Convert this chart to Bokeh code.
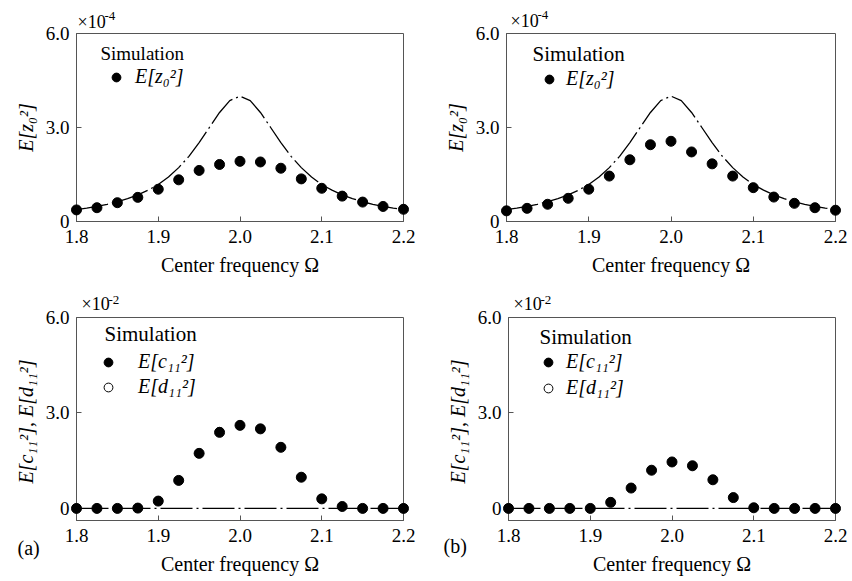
from bokeh.plotting import figure
from bokeh.layouts import column, row
from bokeh.models import Range1d, FixedTicker, PrintfTickFormatter, Label, Legend, LegendItem
from bokeh.core.properties import value
from bokeh.embed import file_html
from bokeh.resources import INLINE

# ---------------- data ----------------
# simulation frequencies
omega_sim = [1.8, 1.825, 1.85, 1.875, 1.9, 1.925, 1.95, 1.975, 2.0,
             2.025, 2.05, 2.075, 2.1, 2.125, 2.15, 2.175, 2.2]
# analytical curve frequencies
omega_theory = [1.8, 1.8125, 1.825, 1.8375, 1.85, 1.8625, 1.875, 1.8875, 1.9,
                1.9125, 1.925, 1.9375, 1.95, 1.9625, 1.975, 1.9875, 2.0,
                2.0125, 2.025, 2.0375, 2.05, 2.0625, 2.075, 2.0875, 2.1,
                2.1125, 2.125, 2.1375, 2.15, 2.1625, 2.175, 2.1875, 2.2]
# analytical E[z0^2] (x1e-4)
z0_theory = [0.38, 0.43, 0.485, 0.55, 0.63, 0.73, 0.85, 1.00, 1.18,
             1.42, 1.72, 2.08, 2.52, 3.00, 3.48, 3.86, 4.00,
             3.86, 3.48, 3.00, 2.52, 2.08, 1.72, 1.42, 1.18,
             1.00, 0.85, 0.73, 0.63, 0.55, 0.485, 0.43, 0.38]
# analytical E[c11^2], E[d11^2] (x1e-2)
cd11_theory = [0.0] * 33

# panel (a) simulation
z0_sim_a = [0.37, 0.44, 0.60, 0.77, 1.03, 1.33, 1.63, 1.82, 1.92,
            1.90, 1.70, 1.36, 1.06, 0.81, 0.62, 0.48, 0.39]
c11_sim_a = [0.0, 0.0, 0.0, 0.01, 0.23, 0.88, 1.73, 2.39, 2.61,
             2.50, 1.92, 0.98, 0.30, 0.06, 0.0, 0.0, 0.0]
d11_sim_a = [0.0, 0.0, 0.0, 0.01, 0.23, 0.88, 1.73, 2.42, 2.61,
             2.50, 1.92, 0.98, 0.30, 0.06, 0.0, 0.0, 0.0]
# panel (b) simulation
z0_sim_b = [0.34, 0.42, 0.55, 0.74, 1.03, 1.45, 1.97, 2.45, 2.56,
            2.22, 1.84, 1.45, 1.08, 0.78, 0.58, 0.44, 0.36]
c11_sim_b = [0.0, 0.0, 0.0, 0.0, 0.0, 0.19, 0.64, 1.20, 1.46,
             1.34, 0.90, 0.34, 0.02, 0.0, 0.0, 0.0, 0.0]
d11_sim_b = [0.0, 0.0, 0.0, 0.0, 0.0, 0.19, 0.64, 1.20, 1.46,
             1.34, 0.90, 0.34, 0.02, 0.0, 0.0, 0.0, 0.0]

x_ticks = [1.8, 1.9, 2.0, 2.1, 2.2]
y_ticks = [0, 3, 6]
y_tick_labels = {0: "0", 3: "3.0", 6: "6.0"}

FONT = "Liberation Serif"
FRAME = "#555555"
DASH = "32 4 2 4"


def make_panel(w, h, bl, br, bt, bb, ymin, ylabel):
    p = figure(width=w, height=h, x_range=Range1d(1.8, 2.2), y_range=Range1d(ymin, 6.0),
               output_backend="svg", toolbar_location=None, tools="",
               min_border_left=bl, min_border_right=br, min_border_top=bt, min_border_bottom=bb)
    p.xgrid.visible = False
    p.ygrid.visible = False
    p.outline_line_color = FRAME
    p.outline_line_width = 1
    p.background_fill_color = "white"
    p.border_fill_color = "white"
    for ax in (p.xaxis[0], p.yaxis[0]):
        ax.axis_line_color = FRAME
        ax.major_tick_line_color = FRAME
        ax.major_tick_in = 5
        ax.major_tick_out = 0
        ax.minor_tick_line_color = None
        ax.major_label_text_font = FONT
        ax.major_label_text_font_size = "19px"
        ax.major_label_text_color = "black"
        ax.axis_label_text_font = FONT
        ax.axis_label_text_font_size = "20px"
        ax.axis_label_text_color = "black"
    p.xaxis.ticker = FixedTicker(ticks=x_ticks)
    p.xaxis.formatter = PrintfTickFormatter(format="%.1f")
    p.xaxis.major_label_standoff = 8
    p.xaxis.axis_label = "Center frequency Ω"
    p.xaxis.axis_label_text_font_style = "normal"
    p.xaxis.axis_label_standoff = 8
    p.yaxis.ticker = FixedTicker(ticks=y_ticks)
    p.yaxis.major_label_overrides = y_tick_labels
    p.yaxis.major_label_standoff = 7
    p.yaxis.axis_label = ylabel
    p.yaxis.axis_label_text_font_style = "italic"
    p.yaxis.axis_label_standoff = 6
    return p


def add_label(p, text, x, y, xo, yo, size, style="normal"):
    p.add_layout(Label(x=x, y=y, x_offset=xo, y_offset=yo, text=text,
                       text_font=FONT, text_font_size=size, text_font_style=style,
                       text_align="left", text_baseline="middle", text_color="black"))


def add_outer_text(p, text, x, y, xo, yo, size):
    # glyph text drawn at overlay level so it is not clipped to the frame
    # (offsets in screen pixels, positive y = down)
    p.text(x=[x], y=[y], text=[text], x_offset=xo, y_offset=yo,
           text_font=value(FONT), text_font_size=value(size), text_align="left",
           text_baseline="middle", text_color="black", level="overlay")


def add_multiplier(p, exponent, xo, yo, sup_shift=6):
    add_outer_text(p, "×10", 1.8, 6.0, xo, yo, "18px")
    add_outer_text(p, exponent, 1.8, 6.0, xo + 27, yo - sup_shift, "13px")


def make_legend(items, loc, standoff, spacing):
    return Legend(items=items, location=loc, glyph_width=22, glyph_height=22,
                  label_height=22, label_standoff=standoff, padding=0, margin=0,
                  spacing=spacing, border_line_alpha=0, background_fill_alpha=0,
                  label_text_font=FONT, label_text_font_style="italic",
                  label_text_font_size="20px", label_text_color="black")


def dots(p, x, y, filled=True, size=10):
    return p.scatter(x, y, size=size, marker="circle",
                     fill_color="black" if filled else "white", line_color="black",
                     level="overlay")


# ---- top left (a) ----
p1 = make_panel(426, 290, 76, 23, 32, 69, 0.0, "E[z₀²]")
p1.line(omega_theory, z0_theory, line_color="black", line_width=1.3, line_dash=DASH)
r1 = dots(p1, omega_sim, z0_sim_a)
p1.add_layout(make_legend([LegendItem(label="E[z₀²]", renderers=[r1])], (29, 133), 8, 2))
add_label(p1, "Simulation", 1.8, 6.0, 24, -20, "19px")
add_multiplier(p1, "-4", 1, -12)

# ---- top right (b) ----
p2 = make_panel(426, 290, 80, 17, 33, 69, 0.0, "E[z₀²]")
p2.line(omega_theory, z0_theory, line_color="black", line_width=1.3, line_dash=DASH)
r2 = dots(p2, omega_sim, z0_sim_b)
p2.add_layout(make_legend([LegendItem(label="E[z₀²]", renderers=[r2])], (32, 131), 6, 2))
add_label(p2, "Simulation", 1.8, 6.0, 26, -20, "21px")
add_multiplier(p2, "-4", 4, -13)

# ---- bottom left (a) ----
YMIN_B = -0.38
p3 = make_panel(426, 291, 76, 23, 27, 61, YMIN_B, "E[c₁₁²],  E[d₁₁²]")
p3.line(omega_theory, cd11_theory, line_color="black", line_width=1.3, line_dash=DASH)
r3d = dots(p3, omega_sim, d11_sim_a, filled=False, size=8)
r3c = dots(p3, omega_sim, c11_sim_a)
p3.add_layout(make_legend([LegendItem(label="E[c₁₁²]", renderers=[r3c]),
                           LegendItem(label="E[d₁₁²]", renderers=[r3d])], (21, 122), 19, 2))
add_label(p3, "Simulation", 1.8, 6.0, 28, -16, "21px")
add_multiplier(p3, "-2", 5, -14, 4)
add_outer_text(p3, "(a)", 1.8, YMIN_B, -59, 27, "20px")

# ---- bottom right (b) ----
p4 = make_panel(426, 291, 82, 17, 27, 59, YMIN_B, "E[c₁₁²],  E[d₁₁²]")
p4.line(omega_theory, cd11_theory, line_color="black", line_width=1.3, line_dash=DASH)
r4d = dots(p4, omega_sim, d11_sim_b, filled=False, size=8)
r4c = dots(p4, omega_sim, c11_sim_b)
p4.add_layout(make_legend([LegendItem(label="E[c₁₁²]", renderers=[r4c]),
                           LegendItem(label="E[d₁₁²]", renderers=[r4d])], (29, 121), 7, 3))
add_label(p4, "Simulation", 1.8, 6.0, 31, -19, "21px")
add_multiplier(p4, "-2", 5, -14, 4)
add_outer_text(p4, "(b)", 1.8, YMIN_B, -65, 25, "20px")

layout = column(row(p1, p2, spacing=0), row(p3, p4, spacing=0), spacing=0)
open("out.html", "w").write(file_html(layout, INLINE))
